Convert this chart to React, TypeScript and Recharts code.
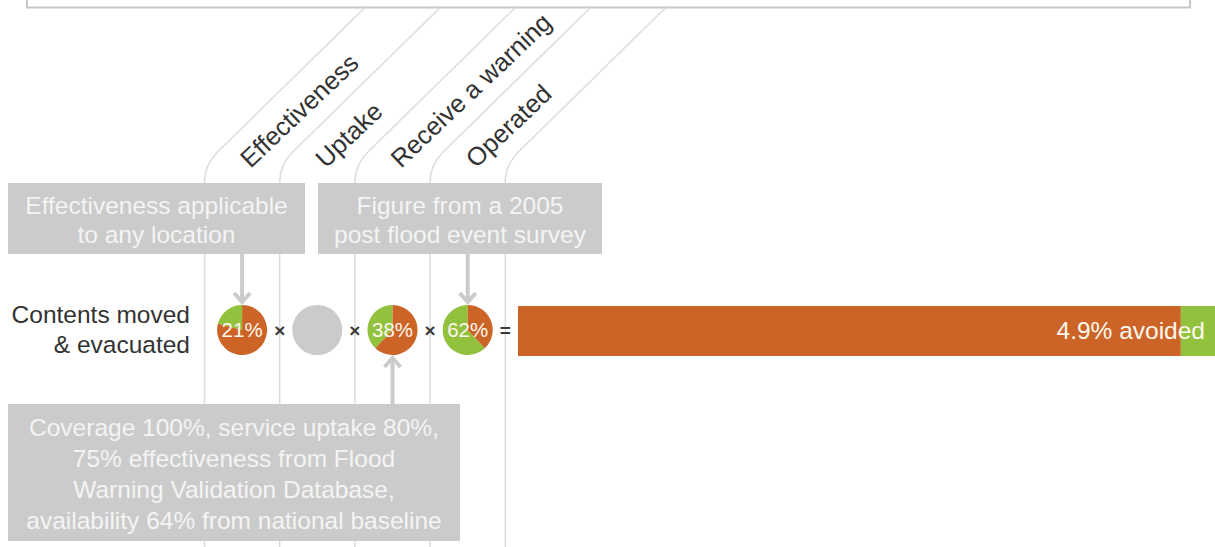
import React from 'react';
import { PieChart, Pie, Cell, BarChart, Bar, XAxis, YAxis, LabelList, Customized } from 'recharts';

// ---------- data ----------
const factorNames = ['Effectiveness', 'Uptake', 'Receive a warning', 'Operated'];
const factorShares: (number | null)[] = [21, null, 38, 62];
const operators = ['×', '×', '×', '='];
const rowLabelLines = ['Contents moved', '& evacuated'];
const outcomeCategories = ['Contents moved & evacuated'];
const avoidedShare = [4.9];
const noteTopLeft = ['Effectiveness applicable', 'to any location'];
const noteTopRight = ['Figure from a 2005', 'post flood event survey'];
const noteBottom = [
  'Coverage 100%, service uptake 80%,',
  '75% effectiveness from Flood',
  'Warning Validation Database,',
  'availability 64% from national baseline',
];

// ---------- style ----------
const W = 1215;
const H = 547;
const ORANGE = '#cc6427';
const GREEN = '#92c23d';
const GRAY = '#cbcbcb';
const LINE = '#dcdcdc';
const FONT = '"Liberation Sans", Arial, Helvetica, sans-serif';
const COL0 = 204.5;
const COLW = 75.2;
const ROW_Y = 330;
const colLeft = (i: number) => COL0 + COLW * i;
const colCenter = (i: number) => colLeft(i) + COLW / 2;

const barData = outcomeCategories.map((name, i) => ({
  name,
  notAvoided: 100 - avoidedShare[i],
  avoided: avoidedShare[i],
}));

const Arrow = ({ x, y1, y2 }: { x: number; y1: number; y2: number }) => {
  const dir = y2 > y1 ? 1 : -1;
  return (
    <g stroke={GRAY} strokeWidth={4} fill="none">
      <line x1={x} y1={y1} x2={x} y2={y2 - dir * 2} />
      <polyline points={`${x - 8},${y2 - dir * 11} ${x},${y2 - dir * 2} ${x + 8},${y2 - dir * 11}`} strokeLinejoin="miter" />
    </g>
  );
};

const NoteBox = ({ x, y, w, h, lines, lh, first }: { x: number; y: number; w: number; h: number; lines: string[]; lh: number; first: number }) => (
  <g>
    <rect x={x} y={y} width={w} height={h} fill={GRAY} />
    {lines.map((t, i) => (
      <text key={i} x={x + w / 2} y={first + i * lh} textAnchor="middle" fill="#f4f4f4" fontSize={24.5} fontFamily={FONT}>
        {t}
      </text>
    ))}
  </g>
);

const Decor = () => (
  <g>
    {/* top frame */}
    <path d={`M27,-5 V7.5 H1190 V-5`} stroke="#c8c8c8" strokeWidth={2} fill="none" />
    {/* column guide lines */}
    {[0, 1, 2, 3, 4].map((i) => {
      const x = colLeft(i);
      return (
        <path
          key={i}
          d={`M${x},${H} V182 Q${x},165 ${x + 13},152 L${x + 160},8`}
          stroke={LINE}
          strokeWidth={1.5}
          fill="none"
        />
      );
    })}
    {/* rotated factor headers */}
    {factorNames.map((n, i) => (
      <text
        key={n}
        transform={`translate(${colLeft(i) + 46},${169}) rotate(-43.5)`}
        fontSize={25.5}
        fontFamily={FONT}
        fill="#333"
      >
        {n}
      </text>
    ))}
    {/* notes */}
    <NoteBox x={8} y={183} w={297} h={71} lines={noteTopLeft} lh={29} first={214} />
    <NoteBox x={318} y={183} w={284} h={71} lines={noteTopRight} lh={29} first={214} />
    <NoteBox x={8} y={404} w={452} h={137} lines={noteBottom} lh={31} first={436} />
    <Arrow x={colCenter(0)} y1={254} y2={304} />
    <Arrow x={colCenter(3)} y1={254} y2={304} />
    <Arrow x={colCenter(2)} y1={404} y2={356} />
    {/* row label */}
    {rowLabelLines.map((t, i) => (
      <text key={i} x={190} y={323 + i * 30} textAnchor="end" fontSize={24.5} fontFamily={FONT} fill="#333">
        {t}
      </text>
    ))}
    {/* operators */}
    {operators.map((o, i) => (
      <text key={i} x={colLeft(i + 1)} y={ROW_Y + 7} textAnchor="middle" fontSize={19} fontWeight="bold" fontFamily={FONT} fill="#3a3a3a">
        {o}
      </text>
    ))}
  </g>
);

const renderPct = (props: any) => {
  if (props.index !== 0) return <g />;
  return (
    <text x={props.cx} y={props.cy + 7} textAnchor="middle" fill="#fdf8ee" fontSize={20.5} fontFamily={FONT}>
      {`${props.value}%`}
    </text>
  );
};

export default function App() {
  return (
    <div style={{ position: 'absolute', left: 0, top: 0, width: W, height: H, background: '#fff', overflow: 'hidden' }}>
      <div style={{ position: 'absolute', left: 0, top: 0 }}>
        <PieChart width={W} height={H} margin={{ top: 0, right: 0, bottom: 0, left: 0 }}>
          <Customized component={Decor} />
          {factorShares.map((v, i) => {
            const data = v == null ? [{ name: 'n/a', value: 100 }] : [
              { name: 'share', value: v },
              { name: 'rest', value: 100 - v },
            ];
            return (
              <Pie
                key={factorNames[i]}
                name={factorNames[i]}
                data={data}
                dataKey="value"
                cx={colCenter(i)}
                cy={ROW_Y}
                innerRadius={0}
                outerRadius={25}
                startAngle={90}
                endAngle={450}
                stroke="none"
                isAnimationActive={false}
                label={v == null ? false : renderPct}
                labelLine={false}
              >
                {data.map((d, j) => (
                  <Cell key={j} fill={v == null ? GRAY : j === 0 ? GREEN : ORANGE} />
                ))}
              </Pie>
            );
          })}
        </PieChart>
      </div>
      <div style={{ position: 'absolute', left: 518, top: 306 }}>
        <BarChart width={W - 518} height={50} data={barData} layout="vertical" margin={{ top: 0, right: 0, bottom: 0, left: 0 }} barCategoryGap={0}>
          <XAxis type="number" domain={[0, 100]} hide />
          <YAxis type="category" dataKey="name" hide />
          <Bar dataKey="notAvoided" stackId="a" fill={ORANGE} isAnimationActive={false} />
          <Bar dataKey="avoided" stackId="a" fill={GREEN} isAnimationActive={false}>
            <LabelList
              dataKey="avoided"
              content={(p: any) => (
                <text x={p.x + p.width - 10} y={p.y + p.height / 2 + 8} textAnchor="end" fill="#fdf8ee" fontSize={24.5} fontFamily={FONT}>
                  {`${p.value}% avoided`}
                </text>
              )}
            />
          </Bar>
        </BarChart>
      </div>
    </div>
  );
}
